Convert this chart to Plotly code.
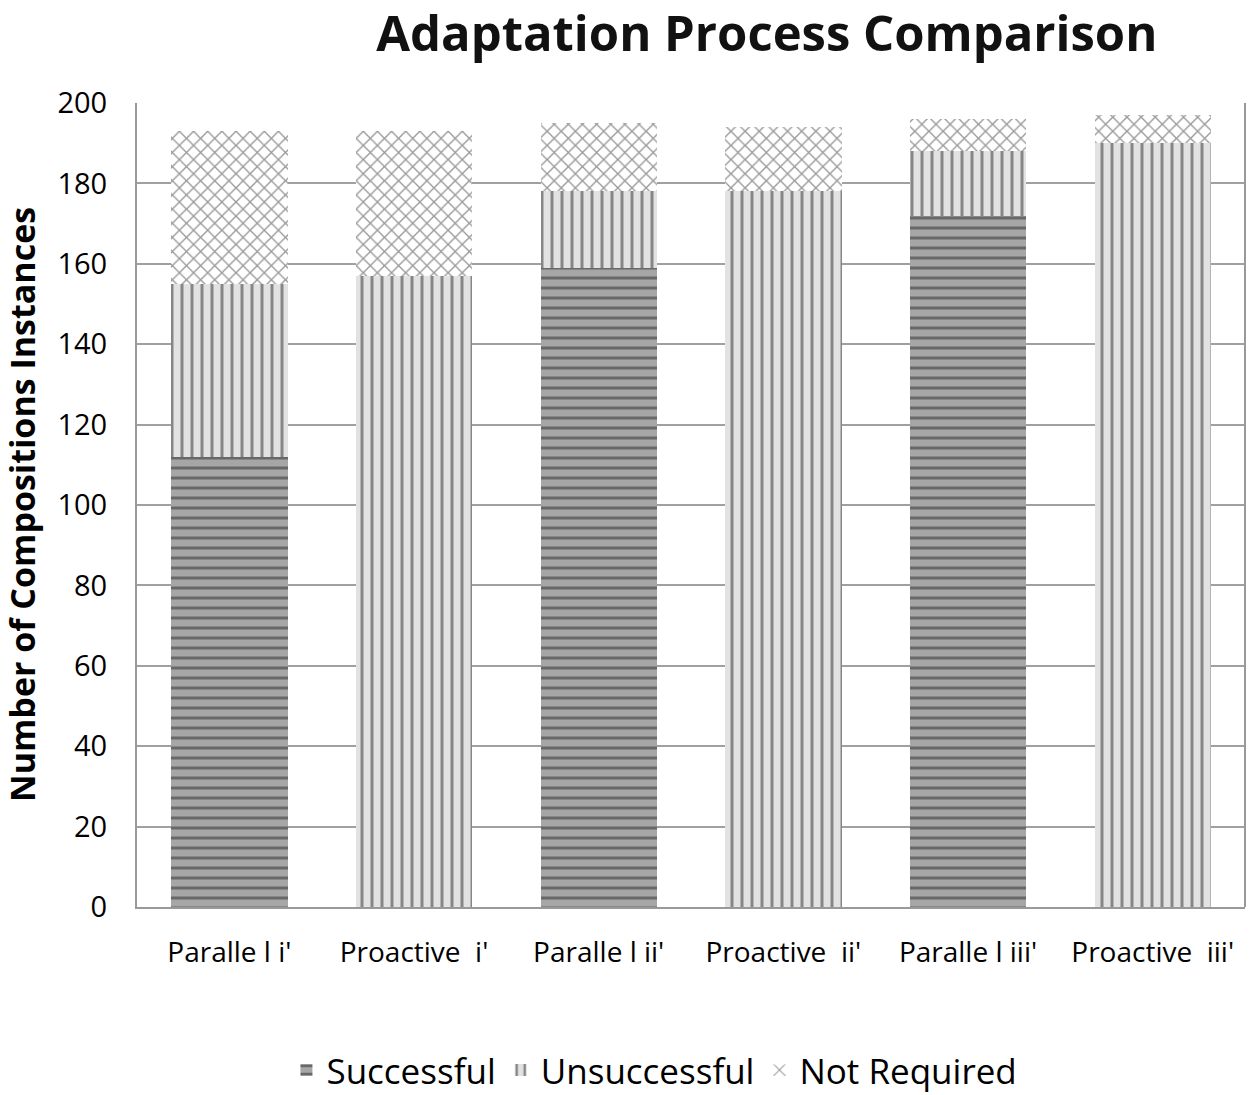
import plotly.graph_objects as go

categories = ["Paralle l i'", "Proactive  i'", "Paralle l ii'", "Proactive  ii'", "Paralle l iii'", "Proactive  iii'"]
successful = [112, 0, 159, 0, 172, 0]
unsuccessful = [43, 157, 19, 178, 16, 190]
not_required = [38, 36, 17, 16, 8, 7]

FONT = "Open Sans"

fig = go.Figure()
fig.add_trace(go.Bar(
    x=categories, y=successful, name="Successful",
    marker=dict(color="#a6a6a6", line=dict(width=0),
                pattern=dict(shape="-", fgcolor="#2a2a2a", size=10, solidity=0.3, fillmode="overlay")),
))
fig.add_trace(go.Bar(
    x=categories, y=unsuccessful, name="Unsuccessful",
    marker=dict(color="#e2e2e2", line=dict(width=0),
                pattern=dict(shape="|", fgcolor="#2a2a2a", size=10, solidity=0.3, fillmode="overlay")),
))
fig.add_trace(go.Bar(
    x=categories, y=not_required, name="Not Required",
    marker=dict(color="#ffffff", line=dict(width=0),
                pattern=dict(shape="x", fgcolor="#333333", size=10, solidity=0.25, fillmode="overlay")),
))

fig.update_layout(
    barmode="stack",
    bargap=0.37,
    width=1251, height=1095,
    margin=dict(l=137, r=6, t=103, b=188, autoexpand=False),
    paper_bgcolor="white", plot_bgcolor="white",
    font=dict(family=FONT, color="#000000"),
    title=dict(text="<b>Adaptation Process Comparison</b>", x=0.613, xanchor="center",
               y=1 - 34 / 1095, yanchor="middle", yref="container",
               font=dict(size=49, family=FONT, color="#111111")),
    legend=dict(orientation="h", x=0.467, xanchor="center", y=-0.203, yanchor="middle",
                font=dict(size=35, family=FONT), traceorder="normal", itemwidth=30),
    xaxis=dict(showline=True, linecolor="#999999", linewidth=2, mirror=False, automargin=False,
               tickfont=dict(size=28, family=FONT), ticks="", ticklabelstandoff=19),
    yaxis=dict(range=[0, 200], dtick=20, showgrid=True, gridcolor="#a0a0a0", gridwidth=2,
               showline=True, linecolor="#999999", linewidth=2, zeroline=False, automargin=False,
               tickfont=dict(size=29, family=FONT), ticks="", ticklabelstandoff=22),
    annotations=[dict(text="<b>Number of Compositions Instances</b>", xref="paper", yref="paper",
                      x=(22 - 137) / 1108, y=0.5, xanchor="center", yanchor="middle",
                      textangle=-90, showarrow=False, font=dict(size=34, family=FONT))],
)
fig.add_shape(type="line", xref="paper", yref="paper", x0=1, x1=1, y0=0, y1=1,
              line=dict(color="#999999", width=2))

fig.write_html("out.html", config={"displayModeBar": False},
               post_script="document.body.style.margin='0';document.body.style.overflow='hidden';")
